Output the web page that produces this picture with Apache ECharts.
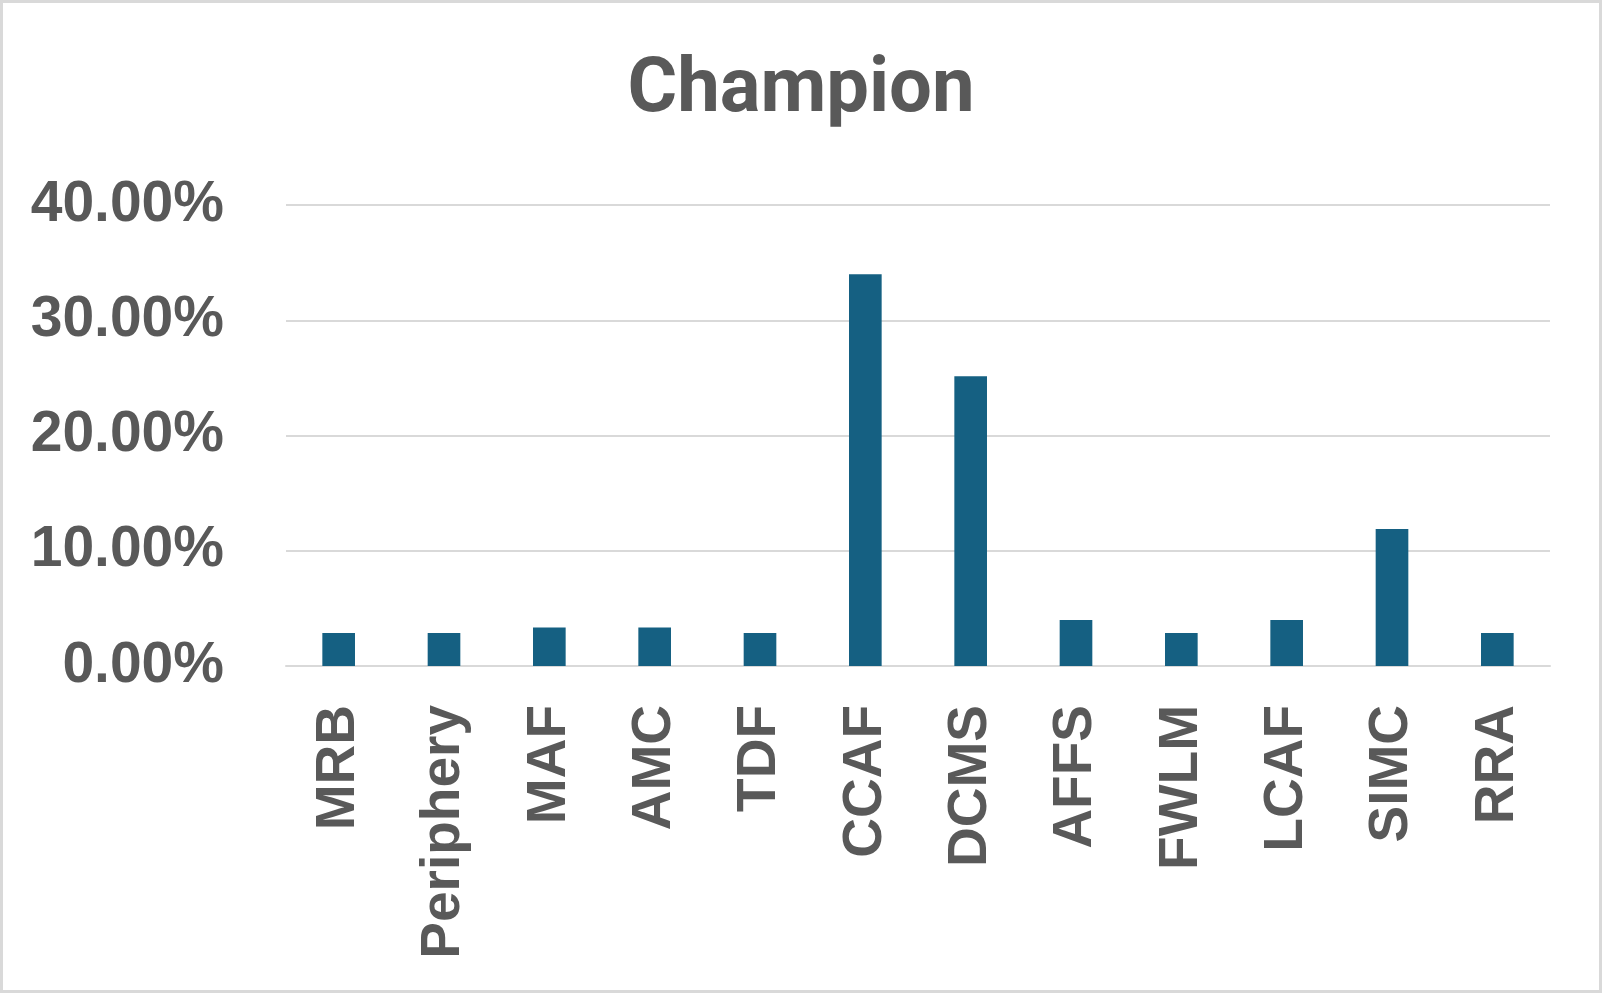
<!DOCTYPE html>
<html>
<head>
<meta charset="utf-8">
<script src="https://cdn.jsdelivr.net/npm/echarts@6/dist/echarts.min.js"></script>
<style>
html,body{margin:0;padding:0;background:#fff;}
#c{width:1602px;height:993px;box-sizing:border-box;border:3px solid #d9d9d9;}
</style>
</head>
<body>
<div id="c"></div>
<script>
const categories = ['MRB','Periphery','MAF','AMC','TDF','CCAF','DCMS','AFFS','FWLM','LCAF','SIMC','RRA'];
const values = [2.86, 2.86, 3.35, 3.35, 2.86, 34.0, 25.15, 3.99, 2.86, 3.99, 11.88, 2.86];
const titleText = 'Champion';
const yMin = 0, yMax = 40, yStep = 10;

const chart = echarts.init(document.getElementById('c'));
chart.setOption({
  animation: false,
  backgroundColor: '#ffffff',
  title: {
    text: titleText,
    left: 'center',
    top: 46,
    textStyle: {fontFamily: 'Roboto', fontWeight: 'bold', fontSize: 76, color: '#595959'}
  },
  grid: {left: 283, right: 49, top: 202, bottom: 324, containLabel: false},
  xAxis: {
    type: 'category',
    data: categories,
    axisLine: {lineStyle: {color: '#d9d9d9', width: 2}},
    axisTick: {show: false},
    axisLabel: {
      rotate: 90, margin: 39, interval: 0,
      fontFamily: 'Liberation Sans', fontWeight: 'bold', fontSize: 55, color: '#595959'
    }
  },
  yAxis: {
    type: 'value',
    min: yMin, max: yMax, interval: yStep,
    axisLine: {show: false},
    axisTick: {show: false},
    splitLine: {lineStyle: {color: '#d9d9d9', width: 2}},
    axisLabel: {
      margin: 62,
      fontFamily: 'Liberation Sans', fontWeight: 'bold', fontSize: 57, color: '#595959',
      formatter: v => v.toFixed(2) + '%'
    }
  },
  series: [{
    type: 'bar',
    data: values,
    barWidth: '31%',
    itemStyle: {color: '#156082'}
  }]
});
</script>
</body>
</html>
